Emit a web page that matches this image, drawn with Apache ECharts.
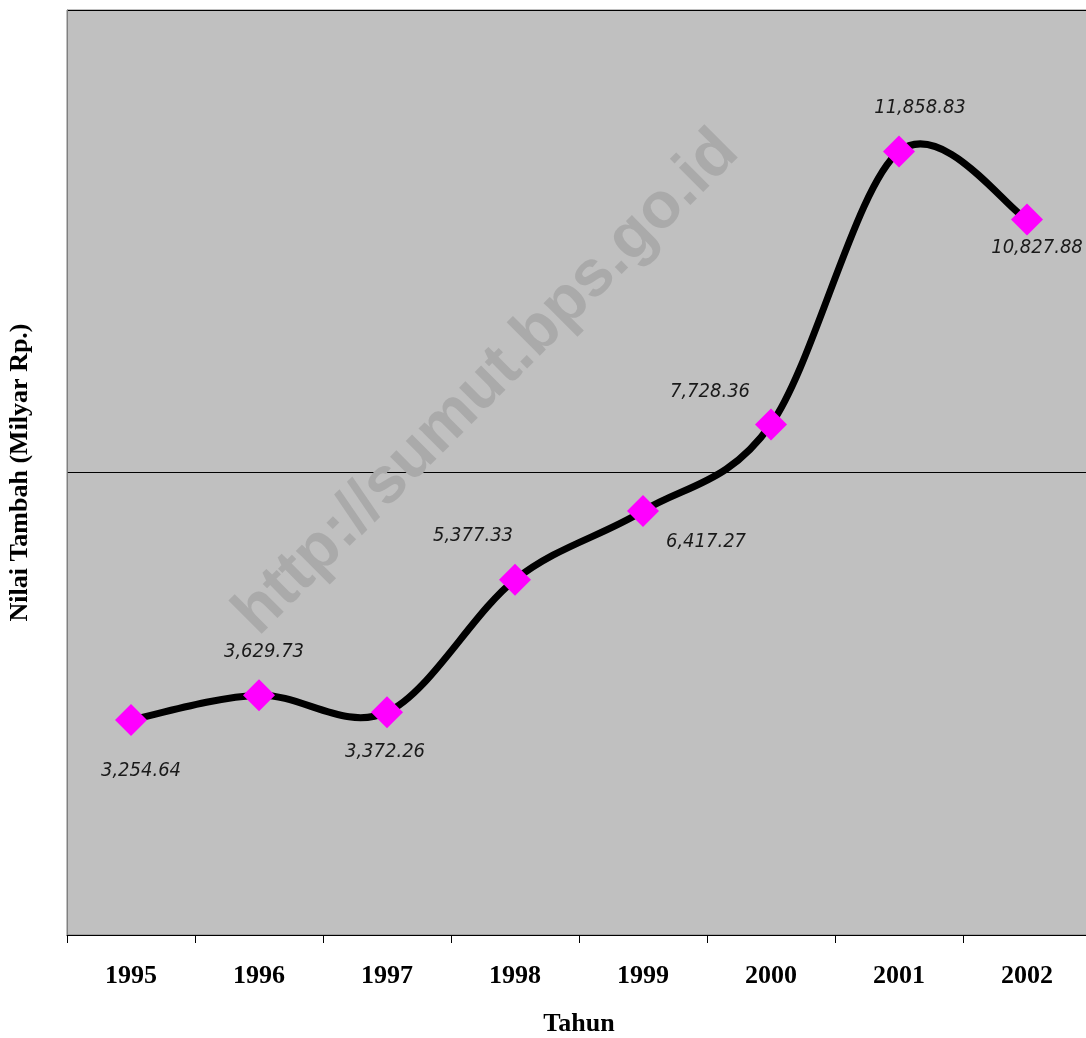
<!DOCTYPE html>
<html>
<head>
<meta charset="utf-8">
<script src="https://cdn.jsdelivr.net/npm/echarts@6/dist/echarts.min.js"></script>
<style>
  html, body { margin: 0; padding: 0; background: #fff; }
  #main { width: 1086px; height: 1038px; }
</style>
</head>
<body>
<div id="main"></div>
<script>
// data
var years = ['1995', '1996', '1997', '1998', '1999', '2000', '2001', '2002'];
var nilaiTambah = [3254.64, 3629.73, 3372.26, 5377.33, 6417.27, 7728.36, 11858.83, 10827.88];
// where each value label sits relative to its point
var labelOffsets = [[10, 51], [5, -43], [-2, 40], [-42, -44], [63, 31], [-61, -33], [21, -44], [10, 28]];

var myChart = echarts.init(document.getElementById('main'));

function fmt(v) {
  return v.toLocaleString('en-US', { minimumFractionDigits: 2, maximumFractionDigits: 2 });
}

// smoothed line like the spreadsheet one (catmull-rom style), one bezier per segment
function renderSegment(params, api) {
  var i = api.value(0);
  var n = nilaiTambah.length;
  function pt(k) {
    k = Math.max(0, Math.min(n - 1, k));
    return api.coord([k, nilaiTambah[k]]);
  }
  var p0 = pt(i - 1), p1 = pt(i), p2 = pt(i + 1), p3 = pt(i + 2);
  return {
    type: 'bezierCurve',
    shape: {
      x1: p1[0], y1: p1[1],
      x2: p2[0], y2: p2[1],
      cpx1: p1[0] + (p2[0] - p0[0]) / 6,
      cpy1: p1[1] + (p2[1] - p0[1]) / 6,
      cpx2: p2[0] - (p3[0] - p1[0]) / 6,
      cpy2: p2[1] - (p3[1] - p1[1]) / 6
    },
    style: { stroke: '#000', lineWidth: 7, fill: null, lineCap: 'round' }
  };
}

var option = {
  animation: false,
  backgroundColor: '#ffffff',
  grid: {
    left: 67,
    top: 10,
    width: 1024,
    height: 925,
    outerBoundsMode: 'none',
    containLabel: false,
    show: true,
    backgroundColor: '#c0c0c0',
    borderColor: '#808080',
    borderWidth: 1
  },
  graphic: [{
    type: 'text',
    x: 487,
    y: 383,
    rotation: Math.PI / 4,
    z: 1,
    style: {
      text: 'http://sumut.bps.go.id',
      fill: '#aaaaaa',
      font: 'bold 65px "Liberation Sans", Arial, sans-serif',
      textAlign: 'center',
      textVerticalAlign: 'middle'
    }
  }],
  xAxis: {
    type: 'category',
    data: years,
    boundaryGap: true,
    name: 'Tahun',
    nameLocation: 'middle',
    nameGap: 76,
    nameTextStyle: {
      fontFamily: '"Liberation Serif", "Times New Roman", serif',
      fontWeight: 'bold',
      fontSize: 26,
      color: '#000'
    },
    axisLine: { show: true, lineStyle: { color: '#000', width: 1 } },
    axisTick: { show: true, alignWithLabel: false, interval: 0, length: 8, lineStyle: { color: '#000' } },
    axisLabel: {
      margin: 28,
      fontFamily: '"Liberation Serif", "Times New Roman", serif',
      fontWeight: 'bold',
      fontSize: 26,
      color: '#000'
    },
    splitLine: { show: false }
  },
  yAxis: {
    type: 'value',
    min: 0,
    max: 14000,
    interval: 7000,
    name: 'Nilai Tambah (Milyar Rp.)',
    nameLocation: 'middle',
    nameGap: 34,
    nameTextStyle: {
      fontFamily: '"Liberation Serif", "Times New Roman", serif',
      fontWeight: 'bold',
      fontSize: 26,
      color: '#000'
    },
    axisLine: { show: true, lineStyle: { color: '#808080' } },
    axisTick: { show: false },
    axisLabel: { show: false },
    splitLine: { show: true, lineStyle: { color: '#000', width: 1 } }
  },
  series: [
    {
      type: 'custom',
      renderItem: renderSegment,
      data: nilaiTambah.slice(0, -1).map(function (v, i) { return [i, v]; }),
      z: 2,
      silent: true
    },
    {
      type: 'line',
      data: nilaiTambah.map(function (v, i) {
        return {
          value: v,
          label: { offset: labelOffsets[i] }
        };
      }),
      z: 3,
      lineStyle: { opacity: 0 },
      symbol: 'diamond',
      symbolSize: 32,
      itemStyle: { color: '#ff00ff' },
      label: {
        show: true,
        position: 'inside',
        formatter: function (p) { return fmt(p.value); },
        fontFamily: '"Liberation Sans Narrow", "Arial Narrow", "DejaVu Sans Condensed", sans-serif',
        fontStyle: 'italic',
        fontSize: 20,
        color: '#1a1a1a'
      }
    }
  ]
};

myChart.setOption(option);
</script>
</body>
</html>
